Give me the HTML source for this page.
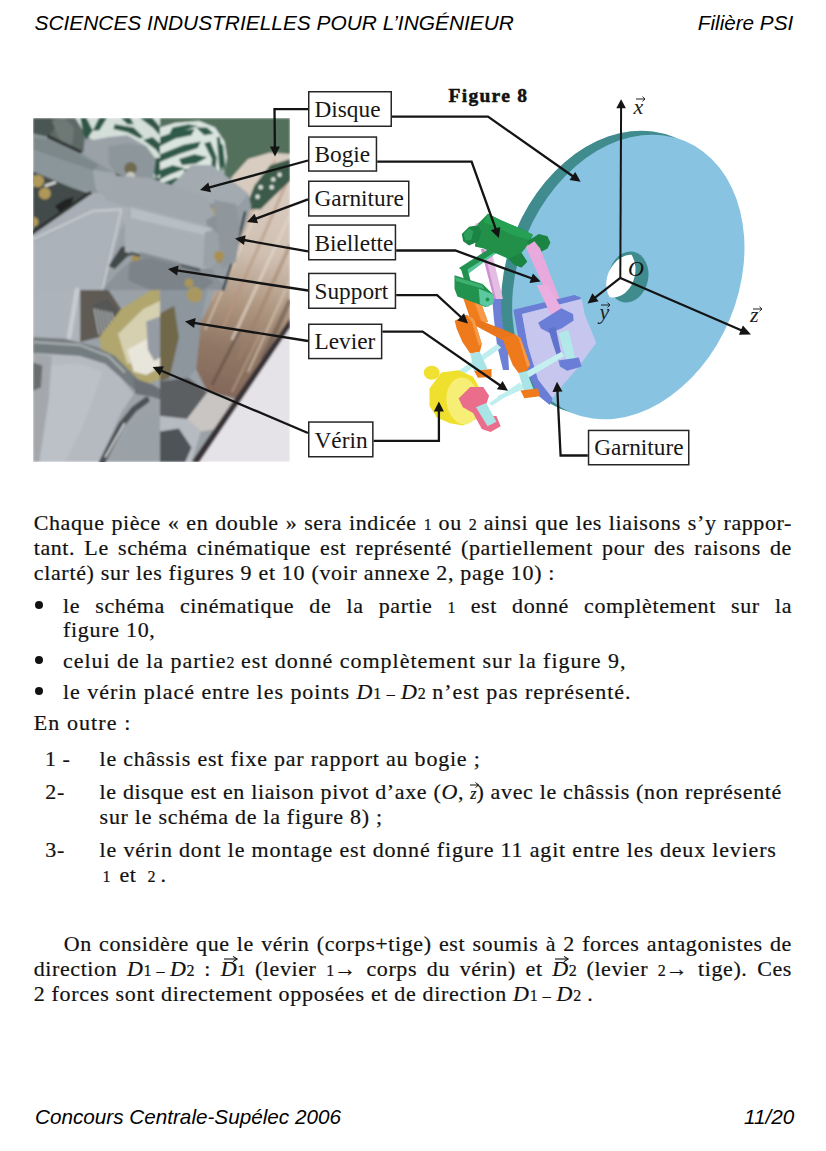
<!DOCTYPE html>
<html><head><meta charset="utf-8"><style>
html,body{margin:0;padding:0;background:#fff;}
body{width:826px;height:1151px;position:relative;overflow:hidden;}
.hd{position:absolute;font-family:"Liberation Sans",sans-serif;font-style:italic;font-size:20.7px;line-height:1;white-space:nowrap;color:#000;}
.ln{position:absolute;font-family:"Liberation Serif",serif;font-size:22.0px;line-height:1;white-space:nowrap;color:#111;-webkit-text-stroke:0.2px #111;}
.ln.j{white-space:normal;text-align:justify;text-align-last:justify;}
.sm{font-size:16px;letter-spacing:0;}
.mi{font-size:16px;}
.bul{position:absolute;left:35px;width:8px;height:8px;border-radius:50%;background:#111;}
.vz,.vd{position:relative;display:inline-block;line-height:1;}
.vz{font-size:16px;letter-spacing:0;}
.va{position:absolute;overflow:visible;}
.vd .va{left:3px;top:-2px;}
.vz .va{left:0px;top:-4.5px;}
svg{position:absolute;left:0;top:0;}
</style></head><body>
<div class="hd" style="left:34.5px;top:12.6px;font-size:20.9px">SCIENCES INDUSTRIELLES POUR L’INGÉNIEUR</div>
<div class="hd" style="left:697.8px;top:12.8px">Filière PSI</div>
<div class="hd" style="left:35px;top:1107.3px">Concours Centrale-Supélec 2006</div>
<div class="hd" style="left:744px;top:1107.3px">11/20</div>
<svg width="826" height="1151" viewBox="0 0 826 1151">
<defs>
<clipPath id="pc"><rect x="33" y="118" width="257" height="344"/></clipPath>
<filter id="bl" x="0" y="0" width="1" height="1"><feGaussianBlur stdDeviation="0.9"/></filter>
<filter id="bl2" x="-5%" y="-5%" width="110%" height="110%"><feGaussianBlur stdDeviation="0.45"/></filter>
</defs>
<g clip-path="url(#pc)"><g filter="url(#bl)"><rect x="33" y="118" width="257" height="344" fill="#9aa2a8"/>
<polygon points="33.0,118.0 80.2,118.0 84.9,136.9 83.4,152.6 80.2,151.8 48.7,136.9 33.0,133.7" fill="#5d6966"/>
<polygon points="33.0,118.0 51.9,118.0 55.0,127.4 48.7,136.9 33.0,133.7" fill="#4a5653"/>
<polygon points="51.9,121.1 64.5,118.0 73.9,127.4 72.3,144.8 64.5,147.9 58.2,136.9" fill="#6e7976"/>
<polygon points="75.5,118.0 163.0,118.0 163.0,187.2 154.2,185.7 146.3,146.3 127.4,135.3 108.5,136.9 92.8,140.0 84.9,133.7" fill="#d4dfda"/>
<polygon points="80.2,118.0 86.5,118.0 92.8,130.6 86.5,140.0 83.4,133.7" fill="#2e5646"/>
<polygon points="99.1,118.0 107.0,118.0 99.1,130.6 92.8,130.6" fill="#2e5646"/>
<polygon points="114.8,124.3 133.7,127.4 143.2,136.9 140.0,138.5 127.4,132.2 113.3,129.0" fill="#2e5646"/>
<polygon points="121.1,118.0 130.6,118.0 133.7,124.3 127.4,124.3" fill="#2e5646"/>
<polygon points="140.0,118.0 152.6,118.0 163.0,130.6 163.0,138.5 152.6,127.4" fill="#2e5646"/>
<polygon points="143.2,140.0 152.6,136.9 163.0,146.3 163.0,158.9 155.8,149.5" fill="#2e5646"/>
<polygon points="149.5,158.9 163.0,157.3 163.0,171.5 155.8,177.8" fill="#2e5646"/>
<polygon points="152.6,177.8 163.0,177.8 163.0,187.2" fill="#2e5646"/>
<polygon points="33.0,133.7 48.7,136.9 80.2,151.8 111.7,171.5 163.0,196.7 163.0,212.4 127.4,206.1 92.8,192.0 70.8,187.2 33.0,171.5" fill="#8b969a"/>
<polygon points="33.0,136.9 48.7,140.0 80.2,155.0 99.1,165.2 92.8,169.9 64.5,160.5 33.0,149.5" fill="#7d888b"/>
<polygon points="92.8,169.9 114.8,173.1 163.0,196.7 163.0,209.3 127.4,203.0 96.0,190.4" fill="#a0a9ae"/>
<polygon points="108.5,146.3 127.4,143.2 146.3,146.3 155.8,158.9 152.6,184.1 143.2,184.1 114.8,173.1 108.5,162.1" fill="#8d979b"/>
<polygon points="114.8,173.1 143.2,184.1 152.6,187.2 143.2,190.4 118.0,177.8" fill="#3c4444"/>
<circle cx="130.6" cy="168.4" r="6.3" fill="#6f6a50"/>
<circle cx="130.6" cy="176.2" r="4.4" fill="#c8c8c0"/>
<polyline points="48.7,136.9 80.2,151.8" fill="none" stroke="#2e3433" stroke-width="3.46" stroke-linejoin="round" stroke-linecap="round"/>
<polygon points="33.0,171.5 70.8,187.2 89.7,193.5 80.2,206.1 51.9,221.9 33.0,231.3" fill="#424b49"/>
<circle cx="37.7" cy="181.0" r="6.3" fill="#b09858"/>
<circle cx="44.8" cy="193.5" r="6.0" fill="#b09858"/>
<circle cx="33.8" cy="221.9" r="4.7" fill="#b09858"/>
<polyline points="45.6,185.7 55.0,182.5" fill="none" stroke="#d8dcd8" stroke-width="2.52" stroke-linejoin="round" stroke-linecap="round"/>
<polygon points="55.0,206.1 64.5,199.8 73.9,196.7 70.8,206.1 59.8,212.4" fill="#202424"/>
<polyline points="33.0,232.9 89.7,193.5" fill="none" stroke="#2a302f" stroke-width="4.09" stroke-linejoin="round" stroke-linecap="round"/>
<polygon points="33.0,234.5 89.7,195.1 99.1,192.0 127.4,206.1 130.6,212.4 121.1,228.2 111.7,259.6 100.7,290.0 33.0,290.0" fill="#a7aeb5"/>
<polygon points="33.0,243.9 92.8,212.4 121.1,209.3 114.8,228.2 99.1,290.0 33.0,290.0" fill="#abb2b9"/>
<polyline points="33.0,239.2 92.8,210.9 121.1,209.3" fill="none" stroke="#c4cacf" stroke-width="2.20" stroke-linejoin="round" stroke-linecap="round"/>
<polyline points="121.1,210.9 114.8,237.6 102.2,290.0" fill="none" stroke="#c4cacf" stroke-width="2.20" stroke-linejoin="round" stroke-linecap="round"/>
<polygon points="124.3,206.1 163.0,199.8 163.0,243.9 143.2,243.9 130.6,231.3 124.3,220.3" fill="#abb2b8"/>
<polygon points="108.5,265.9 121.1,247.1 146.3,242.3 143.2,251.8 127.4,256.5 114.8,269.1" fill="#424848"/>
<polygon points="121.1,269.1 143.2,251.8 163.0,247.1 163.0,290.0 102.2,290.0" fill="#8b9399"/>
<circle cx="136.9" cy="259.6" r="5.5" fill="#a89050"/>
<polygon points="160.0,118.0 290.0,118.0 290.0,157.3 270.2,154.2 254.4,158.9 232.4,177.8 223.0,181.0 160.0,192.0" fill="#52705b"/>
<polygon points="160.0,127.4 175.7,122.7 199.3,121.1 215.1,127.4 224.5,141.6 226.9,157.3 223.7,177.8 207.2,184.1 160.0,192.0" fill="#dbe5e0"/>
<polygon points="160.0,136.9 178.9,130.6 194.6,129.0 191.5,135.3 175.7,138.5 160.0,146.3" fill="#2f5a48"/>
<polygon points="160.0,154.2 183.6,144.8 200.9,141.6 197.8,147.9 178.9,154.2 160.0,162.1" fill="#2f5a48"/>
<polygon points="204.1,143.2 210.4,141.6 216.7,157.3 215.1,177.8 210.4,177.8 211.9,158.9" fill="#2f5a48"/>
<polygon points="196.2,127.4 207.2,127.4 213.5,133.7 204.1,135.3" fill="#2f5a48"/>
<polygon points="160.0,169.9 172.6,165.2 185.2,168.4 169.4,174.7 160.0,179.4" fill="#2f5a48"/>
<polygon points="216.7,136.9 219.8,136.9 223.0,158.9 221.4,174.7 219.0,165.2" fill="#2f5a48"/>
<polygon points="160.0,184.1 175.7,177.8 191.5,179.4 178.9,187.2 160.0,192.0" fill="#2f5a48"/>
<polygon points="172.6,127.4 188.3,124.3 197.8,125.9 183.6,130.6 169.4,133.7" fill="#2f5a48"/>
<polygon points="178.9,158.9 194.6,154.2 207.2,157.3 196.2,163.6 182.0,165.2" fill="#2f5a48"/>
<polygon points="183.6,169.9 199.3,165.2 207.2,169.9 200.9,177.8 186.8,177.8" fill="#2f5a48"/>
<polygon points="219.8,143.2 223.0,144.8 225.3,165.2 223.7,174.7 222.2,165.2" fill="#2f5a48"/>
<linearGradient id="tg" gradientUnits="userSpaceOnUse" x1="265" y1="175" x2="215" y2="390"><stop offset="0" stop-color="#d9cdc1"/><stop offset="0.35" stop-color="#d0c0b2"/><stop offset="0.6" stop-color="#ad957f"/><stop offset="0.8" stop-color="#917866"/><stop offset="1" stop-color="#84695a"/></linearGradient>
<polygon points="231,178 248,159 270,152.6 290,154 290,330 240,400 207,391 196,369 201,321.5 212,300 219.8,290 229,248.6 238.7,226.6 245,206" fill="url(#tg)"/>
<line x1="290" y1="175" x2="222" y2="330" stroke="#b89480" stroke-width="3" opacity="0.6"/>
<line x1="290" y1="215" x2="232" y2="340" stroke="#e2d6c8" stroke-width="3" opacity="0.7"/>
<line x1="290" y1="245" x2="238" y2="360" stroke="#a08068" stroke-width="4" opacity="0.5"/>
<line x1="275" y1="160" x2="212" y2="300" stroke="#c8a48e" stroke-width="2.5" opacity="0.6"/>
<line x1="290" y1="280" x2="248" y2="372" stroke="#d8c8b6" stroke-width="2.5" opacity="0.6"/>
<line x1="262" y1="200" x2="205" y2="330" stroke="#e8dccc" stroke-width="2" opacity="0.5"/>
<line x1="240" y1="330" x2="212" y2="385" stroke="#5e4a40" stroke-width="3" opacity="0.6"/>
<line x1="262" y1="330" x2="232" y2="392" stroke="#c0a890" stroke-width="2" opacity="0.6"/>
<line x1="290" y1="300" x2="262" y2="360" stroke="#6a5850" stroke-width="5" opacity="0.6"/>
<polygon points="245.0,209.3 254.4,185.7 270.2,165.2 290.0,158.9 290.0,181.0 273.3,196.7 260.7,209.3" fill="#3b5a4a"/>
<circle cx="273.3" cy="179.4" r="2.2" fill="#dde4de"/>
<circle cx="260.7" cy="187.2" r="2.2" fill="#dde4de"/>
<circle cx="271.7" cy="187.2" r="2.2" fill="#dde4de"/>
<circle cx="257.6" cy="196.7" r="2.2" fill="#dde4de"/>
<circle cx="279.6" cy="174.7" r="2.2" fill="#dde4de"/>
<polygon points="160.0,192.0 169.4,187.2 191.5,165.2 211.9,165.2 248.1,193.5 251.3,206.1 245.0,228.2 234.0,251.8 226.1,290.0 160.0,290.0" fill="#959ea4"/>
<polygon points="169.4,187.2 191.5,165.2 211.9,165.2 248.1,193.5 238.7,206.1 216.7,206.1 188.3,199.8" fill="#a3abb1"/>
<polygon points="160.0,199.8 188.3,199.8 213.5,206.1 216.7,237.6 210.4,267.5 160.0,269.1" fill="#a0a8ae"/>
<polygon points="204.1,203.0 235.5,206.1 238.7,237.6 229.2,256.5 216.7,247.1 207.2,228.2" fill="#8a9298"/>
<circle cx="218.2" cy="210.9" r="6.3" fill="#a89870"/>
<circle cx="220.6" cy="255.7" r="7.6" fill="#a08850"/>
<circle cx="188.3" cy="280.1" r="8.7" fill="#a08850"/>
<polygon points="160.0,269.1 210.4,267.5 226.1,290.0 160.0,290.0" fill="#8a9298"/>
<polyline points="245.0,212.4 235.5,251.8 223.0,290.0" fill="none" stroke="#2c3030" stroke-width="2.20" stroke-linejoin="round" stroke-linecap="round"/>
<polygon points="105.0,175.0 150.0,178.0 205.0,196.0 215.0,215.0 200.0,224.0 130.0,208.0 105.0,200.0" fill="#a0a8ae"/>
<polygon points="125.0,212.0 131.0,206.0 211.0,227.0 219.0,236.0 220.0,256.0 211.0,268.0 199.0,269.0 125.0,252.0" fill="#a8b0b6"/>
<polygon points="131.0,208.0 211.0,229.0 214.0,237.0 131.0,218.0" fill="#b7bfc5"/>
<polygon points="205.0,232.0 214.0,230.0 220.0,240.0 220.0,258.0 211.0,268.0 203.0,266.0" fill="#9aa2a8"/>
<polyline points="130,253 200,270" stroke="#50575b" stroke-width="3" fill="none"/>
<polygon points="140.0,252.0 178.0,262.0 184.0,270.0 180.0,276.0 140.0,264.0" fill="#858d93"/>
<polygon points="130.0,262.0 150.0,258.0 200.0,272.0 214.0,282.0 200.0,292.0 150.0,290.0 128.0,280.0" fill="#7c848a"/>
<polygon points="214.0,200.0 236.0,204.0 240.0,230.0 236.0,262.0 222.0,268.0 218.0,236.0" fill="#8f979d"/>
<circle cx="219" cy="256" r="5" fill="#a89050"/>
<circle cx="189" cy="283" r="4.5" fill="#a89458"/>
<circle cx="194" cy="294" r="5.5" fill="#b8a468"/>
<polygon points="33.0,290.0 80.2,290.0 80.2,341.9 33.0,341.9" fill="#adb3ba"/>
<polyline points="77.1,290.0 69.2,337.2" fill="none" stroke="#c6ccd1" stroke-width="4.72" stroke-linejoin="round" stroke-linecap="round"/>
<polygon points="80.2,290.0 108.5,290.0 121.1,308.9 99.1,337.2 80.2,341.9" fill="#5e5a52"/>
<polygon points="92.8,305.7 107.0,299.4 121.1,315.2 114.8,334.1 99.1,337.2" fill="#545656"/>
<polyline points="94.4,308.9 99.1,334.1" fill="none" stroke="#b0b4b4" stroke-width="1.57" stroke-linejoin="round" stroke-linecap="round"/>
<polyline points="97.8,309.7 102.6,334.1" fill="none" stroke="#b0b4b4" stroke-width="1.57" stroke-linejoin="round" stroke-linecap="round"/>
<polyline points="101.3,310.5 106.0,334.1" fill="none" stroke="#b0b4b4" stroke-width="1.57" stroke-linejoin="round" stroke-linecap="round"/>
<polyline points="104.8,311.2 109.5,334.1" fill="none" stroke="#b0b4b4" stroke-width="1.57" stroke-linejoin="round" stroke-linecap="round"/>
<polyline points="108.2,312.0 112.9,334.1" fill="none" stroke="#b0b4b4" stroke-width="1.57" stroke-linejoin="round" stroke-linecap="round"/>
<polyline points="111.7,312.8 116.4,334.1" fill="none" stroke="#b0b4b4" stroke-width="1.57" stroke-linejoin="round" stroke-linecap="round"/>
<polygon points="99.1,337.2 121.1,308.9 151.0,290.0 163.0,290.0 163.0,378.1 146.3,384.4 133.7,384.4 121.1,378.1 103.8,360.8" fill="#b0a66e"/>
<polygon points="118.0,334.1 143.2,308.9 163.0,299.4 163.0,346.7 143.2,359.2 127.4,364.0" fill="#d6d0b0"/>
<polygon points="127.4,349.8 149.5,337.2 163.0,334.1 163.0,365.5 146.3,375.0 133.7,371.8" fill="#e8e5da"/>
<polygon points="33.0,337.2 64.5,338.8 96.0,346.7 114.8,356.1 130.6,371.8 143.2,384.4 136.9,392.3 121.1,378.1 105.4,364.0 80.2,356.1 33.0,353.0" fill="#737b7e"/>
<polyline points="33.0,341.9 80.2,345.1 108.5,356.1 124.3,371.8" fill="none" stroke="#a4abae" stroke-width="2.52" stroke-linejoin="round" stroke-linecap="round"/>
<polygon points="146.3,321.5 163.0,315.2 163.0,356.1 154.2,360.8 147.9,349.8" fill="#959ca3"/>
<polygon points="33.0,353.0 80.2,356.1 105.4,364.0 121.1,378.1 133.7,393.9 121.1,412.8 99.1,462.0 33.0,462.0" fill="#b5bac1"/>
<polygon points="39.3,365.5 80.2,364.0 102.2,371.8 92.8,400.2 80.2,431.6 64.5,462.0 39.3,462.0" fill="#bcc1c7"/>
<polygon points="99.1,462.0 121.1,415.9 136.9,393.9 152.6,390.7 163.0,400.2 163.0,412.8 143.2,409.6 127.4,428.5 111.7,462.0" fill="#9ca2a8"/>
<polyline points="102.2,462.0 121.1,425.3 133.7,409.6 146.3,400.2" fill="none" stroke="#4c5154" stroke-width="6.30" stroke-linejoin="round" stroke-linecap="round"/>
<polyline points="105.4,456.8 124.3,423.8" fill="none" stroke="#dfe2e4" stroke-width="1.57" stroke-linejoin="round" stroke-linecap="round"/>
<polygon points="133.7,378.1 152.6,384.4 163.0,390.7 163.0,400.2 152.6,397.0 135.3,393.9" fill="#6a7076"/>
<polygon points="33.0,353.0 51.9,356.1 48.7,400.2 39.3,462.0 33.0,462.0" fill="#a4a8ad"/>
<polygon points="33.0,362.4 42.4,365.5 40.9,387.6 33.0,390.7" fill="#6b6e70"/>
<polygon points="160.0,290.0 207.2,290.0 200.9,321.5 196.2,368.7 188.3,378.1 160.0,384.4" fill="#8d959d"/>
<circle cx="194.6" cy="294.7" r="7.9" fill="#a89860"/>
<polygon points="160.0,313.6 174.2,305.7 178.9,337.2 169.4,378.1 160.0,381.3" fill="#70684a"/>
<polygon points="186.8,419.1 207.2,392.3 235.5,400.2 219.8,428.5 200.9,431.6" fill="#c9c5c2"/>
<polygon points="160.0,381.3 188.3,378.1 207.2,392.3 186.8,419.1 160.0,415.9" fill="#5b5f62"/>
<polygon points="160.0,415.9 186.8,419.1 200.9,431.6 191.5,462.0 160.0,462.0" fill="#b6bbc1"/>
<polygon points="160.0,431.6 178.9,428.5 191.5,447.4 185.2,462.0 160.0,462.0" fill="#4e5256"/>
<polygon points="290.0,318.3 290.0,337.2 207.2,462.0 191.5,462.0" fill="#383336"/>
<polygon points="290.0,327.8 290.0,462.0 199.3,462.0" fill="#e5e3e8"/></g></g>
<g filter="url(#bl2)"><polygon points="492,297 505,295 507,335 509,370 503,370 497,345 494,320" fill="#6c80d6"/>
<ellipse cx="617.3" cy="273.0" rx="109.9" ry="147.2" transform="rotate(22.6 617.3 273.0)" fill="#3f8b8d"/>
<ellipse cx="628.3" cy="277.0" rx="109.9" ry="147.2" transform="rotate(22.6 628.3 277.0)" fill="#88c3e2"/>
<clipPath id="hc"><ellipse cx="628.4" cy="277" rx="19.8" ry="25.7" transform="rotate(12 628.4 277)"/></clipPath>
<ellipse cx="628.4" cy="277" rx="19.8" ry="25.7" transform="rotate(12 628.4 277)" fill="#3f8b8d"/>
<ellipse clip-path="url(#hc)" cx="615.4" cy="272" rx="19.8" ry="25.7" transform="rotate(12 615.4 272)" fill="#ffffff"/>
<polygon points="481.0,249.0 491.0,249.0 503.0,299.0 494.0,299.0" fill="#e4bce4"/>
<polygon points="481.0,249.0 484.0,249.0 496.0,299.0 494.0,299.0" fill="#cf8fd0"/>
<polygon points="474.9,223.9 483.6,221.0 487.9,225.3 480.7,231.2" fill="#e7b2e0"/>
<polygon points="459.0,268.0 492.0,247.0 499.0,251.0 466.0,274.0" fill="#229250"/>
<polygon points="465.0,271.0 495.0,252.0 499.0,251.0 468.0,274.0" fill="#58c49a"/>
<polygon points="461.0,269.0 467.0,268.0 471.0,282.0 465.0,283.0" fill="#229250"/>
<polygon points="477.8,223.9 487.9,213.7 501.0,220.3 519.9,228.2 533.0,234.8 527.2,245.7 521.4,252.9 527.2,261.7 521.4,267.5 514.1,264.6 508.3,258.8 495.2,252.9 483.6,248.6 474.9,246.4" fill="#20904a"/>
<polygon points="487.9,213.7 501.0,220.3 519.9,228.2 533.0,234.8 528.6,239.9 509.7,234.1 495.2,226.8 483.6,222.4" fill="#25a052"/>
<polygon points="461.8,234.1 469.1,226.8 477.8,225.3 481.4,231.2 478.5,241.3 469.1,245.4 463.2,241.3" fill="#1a8443"/>
<polygon points="463.2,234.1 469.1,228.2 473.4,231.2 471.2,239.9 465.4,240.6" fill="#2aa05c"/>
<polygon points="527.2,241.3 538.8,234.1 547.5,236.2 550.4,242.8 547.5,248.6 538.8,252.9 530.1,250.0" fill="#1a8443"/>
<polygon points="508.3,258.8 521.4,252.9 527.2,261.7 521.4,267.5 514.1,264.6" fill="#1a8443"/>
<polygon points="525.7,247.1 534.4,241.3 540.2,248.6 560.0,299.4 560.0,305.0 551.9,305.0" fill="#e8a9dc"/>
<polygon points="513.4,309.7 574.4,294.9 580.2,297.3 581.7,299.5 522.1,314.1 527.9,346.0 538.1,379.4 552.6,398.3 549.7,405.0 538.1,395.4 527.9,372.2 519.2,343.1" fill="#6a7ed6"/>
<polygon points="522.1,314.1 581.7,298.8 584.6,314.1 596.2,343.1 578.8,366.4 561.4,386.7 552.6,398.3 538.1,379.4 527.9,346.0" fill="#c6c6ee"/>
<polygon points="536.7,285.0 548.3,285.0 567.2,318.4 559.9,328.6 555.5,324.2" fill="#eaaee0"/>
<polygon points="552.6,318.4 565.7,314.1 567.9,319.9 559.9,328.6" fill="#f08dbd"/>
<polygon points="538.1,322.8 561.4,308.2 573.0,314.1 573.7,320.6 561.4,328.6 549.7,332.9 541.0,328.6" fill="#6a7ed8"/>
<polygon points="548.3,328.6 555.5,327.1 561.4,354.7 558.5,360.5 552.6,343.1" fill="#5f72cc"/>
<polygon points="558.5,332.9 568.6,330.0 575.9,360.5 567.2,363.5" fill="#b2e8ea"/>
<polygon points="558.5,360.5 578.8,357.6 581.7,366.4 567.2,370.7 559.9,366.4" fill="#6a7ed8"/>
<polygon points="525.0,372.2 561.4,351.8 564.3,356.2 527.9,378.0" fill="#c4f0f0"/>
<polygon points="459.4,287.0 476.8,291.6 488.0,322.0 472.0,324.0" fill="#ef7d1e"/>
<polygon points="470.0,290.0 476.8,291.6 488.0,322.0 482.0,323.0" fill="#f59a48"/>
<polygon points="458.6,316.8 466.3,314.9 514.7,334.2 511.8,340.0 503.1,340.4" fill="#e9741a"/>
<polygon points="454.7,320.7 466.3,314.9 474.1,318.7 481.8,343.9 479.9,351.7 470.2,353.6 462.4,342.0 456.6,328.4" fill="#ee7a1c"/>
<polygon points="466.3,314.9 474.1,318.7 481.8,343.9 478.9,345.9 472.1,322.6" fill="#f59a48"/>
<polygon points="503.1,338.1 514.7,334.2 520.5,338.1 530.2,365.2 526.4,371.0 518.6,373.0 512.8,365.2 505.0,345.9" fill="#ee7a1c"/>
<polygon points="514.7,334.2 520.5,338.1 530.2,365.2 527.3,367.2 518.6,338.1" fill="#f59a48"/>
<polygon points="458.6,371.0 497.3,343.9 501.2,347.8 462.4,374.9" fill="#bfeeee"/>
<polygon points="497.3,396.2 522.5,384.6 524.4,388.5 499.2,400.1" fill="#bfeeee"/>
<polygon points="470.2,353.6 479.9,351.7 487.6,369.1 479.9,373.0 474.1,371.0" fill="#a9e4e6"/>
<polygon points="518.6,373.0 526.4,371.0 534.1,390.4 524.4,392.3" fill="#a9e4e6"/>
<polygon points="474.1,371.0 491.5,369.1 491.5,376.9 477.9,377.8" fill="#ee7a1c"/>
<polygon points="520.5,390.4 538.0,388.5 539.9,396.2 524.4,398.2" fill="#ee7a1c"/>
<polygon points="454.5,275.2 482.6,284.0 493.3,294.5 492.3,304.2 485.5,307.1 478.7,304.2 457.4,296.5 454.5,288.7" fill="#229250"/>
<polygon points="455.0,277.0 482.0,285.0 484.0,289.0 456.0,281.0" fill="#3fb070"/>
<polygon points="478.7,288.7 493.3,294.5 494.0,302.0 488.0,307.1 480.0,304.2" fill="#5cc8a0"/>
<circle cx="487.5" cy="299.5" r="2" fill="#229250"/>
<polygon points="458.6,371.0 470.2,363.7 472.4,366.6 461.5,373.2" fill="#bfeeee"/>
<polygon points="489.1,402.9 519.6,382.6 522.5,385.5 492.0,405.8" fill="#bfeeee"/>
<ellipse cx="431.7" cy="372.8" rx="8" ry="7" fill="#f0e030"/>
<polygon points="429.5,388.4 441.2,372.4 458.6,370.3 473.1,376.8 478.9,387.0 480.4,402.9 476.0,418.9 462.9,425.5 449.9,423.3 436.8,417.5 429.5,405.8" fill="#efe02e"/>
<ellipse cx="463" cy="401" rx="16.5" ry="23.5" transform="rotate(-8 463 401)" fill="#f6ee74"/>
<polygon points="458.6,398.6 470.2,387.0 483.3,387.0 489.1,395.7 486.2,404.4 478.9,407.3 483.3,416.0 496.4,416.0 500.7,426.2 490.5,432.0 481.8,429.1 473.1,413.1 462.9,407.3" fill="#ea6e8c"/>
<polygon points="476.0,407.3 486.2,402.9 496.4,421.8 487.6,426.2" fill="#a9e4e6"/></g>
<rect x="308.75" y="91.75" width="82.5" height="34.5" fill="#fff" stroke="#262626" stroke-width="1.5"/>
<text x="314.5" y="117" font-family="Liberation Serif" font-size="23.3" fill="#161616">Disque</text>
<rect x="308.75" y="137.05" width="67.69999999999999" height="34.0" fill="#fff" stroke="#262626" stroke-width="1.5"/>
<text x="314.5" y="161.5" font-family="Liberation Serif" font-size="23.3" fill="#161616">Bogie</text>
<rect x="308.75" y="181.25" width="100.0" height="34.69999999999999" fill="#fff" stroke="#262626" stroke-width="1.5"/>
<text x="314.5" y="206" font-family="Liberation Serif" font-size="23.3" fill="#161616">Garniture</text>
<rect x="308.75" y="225.05" width="86.69999999999999" height="34.69999999999999" fill="#fff" stroke="#262626" stroke-width="1.5"/>
<text x="314.5" y="250.8" font-family="Liberation Serif" font-size="23.3" fill="#161616">Biellette</text>
<rect x="308.75" y="273.45" width="86.69999999999999" height="34.80000000000001" fill="#fff" stroke="#262626" stroke-width="1.5"/>
<text x="314.5" y="298.7" font-family="Liberation Serif" font-size="23.3" fill="#161616">Support</text>
<rect x="308.75" y="324.25" width="72.89999999999998" height="34.30000000000001" fill="#fff" stroke="#262626" stroke-width="1.5"/>
<text x="314.5" y="348.7" font-family="Liberation Serif" font-size="23.3" fill="#161616">Levier</text>
<rect x="308.75" y="422.05" width="64.10000000000002" height="34.69999999999999" fill="#fff" stroke="#262626" stroke-width="1.5"/>
<text x="314.5" y="447.5" font-family="Liberation Serif" font-size="23.3" fill="#161616">Vérin</text>
<rect x="588.55" y="430.45" width="100.20000000000005" height="34.30000000000001" fill="#fff" stroke="#262626" stroke-width="1.5"/>
<text x="594.3" y="455.2" font-family="Liberation Serif" font-size="23.3" fill="#161616">Garniture</text>
<text x="448.5" y="101.8" font-family="Liberation Serif" font-weight="bold" font-size="19.5" letter-spacing="1.3" fill="#111" stroke="#111" stroke-width="0.5">Figure 8</text>
<polyline points="308.0,109.2 274.5,109.2 274.9,147.5" fill="none" stroke="#141414" stroke-width="2.3" stroke-linejoin="miter"/><polygon points="275.0,156.5 269.9,146.6 279.9,146.4" fill="#141414"/>
<polyline points="308.0,160.5 208.7,187.6" fill="none" stroke="#141414" stroke-width="2.3" stroke-linejoin="miter"/><polygon points="200.0,190.0 208.3,182.5 211.0,192.2" fill="#141414"/>
<polyline points="308.0,199.3 255.4,218.9" fill="none" stroke="#141414" stroke-width="2.3" stroke-linejoin="miter"/><polygon points="247.0,222.0 254.6,213.8 258.1,223.2" fill="#141414"/>
<polyline points="308.0,251.4 243.9,240.0" fill="none" stroke="#141414" stroke-width="2.3" stroke-linejoin="miter"/><polygon points="235.0,238.4 245.7,235.2 244.0,245.1" fill="#141414"/>
<polyline points="308.0,290.5 176.9,270.4" fill="none" stroke="#141414" stroke-width="2.3" stroke-linejoin="miter"/><polygon points="168.0,269.0 178.6,265.6 177.1,275.5" fill="#141414"/>
<polyline points="308.0,341.0 193.9,322.9" fill="none" stroke="#141414" stroke-width="2.3" stroke-linejoin="miter"/><polygon points="185.0,321.5 195.7,318.1 194.1,328.0" fill="#141414"/>
<polyline points="308.0,433.0 160.9,370.5" fill="none" stroke="#141414" stroke-width="2.3" stroke-linejoin="miter"/><polygon points="152.6,367.0 163.8,366.3 159.8,375.5" fill="#141414"/>
<polyline points="392.0,116.6 488.0,116.6 573.2,176.5" fill="none" stroke="#141414" stroke-width="2.3" stroke-linejoin="miter"/><polygon points="580.6,181.7 569.5,180.0 575.3,171.9" fill="#141414"/>
<polyline points="377.2,161.7 471.6,161.7 495.9,229.5" fill="none" stroke="#141414" stroke-width="2.3" stroke-linejoin="miter"/><polygon points="498.9,238.0 490.8,230.3 500.2,226.9" fill="#141414"/>
<polyline points="396.2,250.5 455.3,250.5 532.1,278.5" fill="none" stroke="#141414" stroke-width="2.3" stroke-linejoin="miter"/><polygon points="540.6,281.6 529.5,282.9 532.9,273.5" fill="#141414"/>
<polyline points="396.2,295.2 437.1,295.2 461.4,317.5" fill="none" stroke="#141414" stroke-width="2.3" stroke-linejoin="miter"/><polygon points="468.0,323.6 457.3,320.5 464.0,313.2" fill="#141414"/>
<polyline points="382.4,331.6 422.6,331.6 500.6,385.7" fill="none" stroke="#141414" stroke-width="2.3" stroke-linejoin="miter"/><polygon points="508.0,390.8 496.9,389.2 502.6,381.0" fill="#141414"/>
<polyline points="373.6,440.8 438.9,440.8 438.9,410.5" fill="none" stroke="#141414" stroke-width="2.3" stroke-linejoin="miter"/><polygon points="438.9,401.5 443.9,411.5 433.9,411.5" fill="#141414"/>
<polyline points="587.8,455.5 560.6,455.5 557.4,390.7" fill="none" stroke="#141414" stroke-width="2.3" stroke-linejoin="miter"/><polygon points="557.0,381.7 562.5,391.4 552.5,391.9" fill="#141414"/>
<polyline points="620.3,277.9 621.1,107.2" fill="none" stroke="#141414" stroke-width="2.0" stroke-linejoin="miter"/><polygon points="621.1,99.2 625.9,108.2 616.3,108.2" fill="#141414"/>
<polyline points="620.3,277.9 594.7,297.9" fill="none" stroke="#141414" stroke-width="2.2" stroke-linejoin="miter"/><polygon points="587.6,303.4 592.4,293.3 598.6,301.2" fill="#141414"/>
<polyline points="620.3,277.9 741.8,330.5" fill="none" stroke="#141414" stroke-width="2.2" stroke-linejoin="miter"/><polygon points="751.0,334.5 738.9,334.7 742.9,325.5" fill="#141414"/>
<text x="628" y="275.5" font-family="Liberation Serif" font-style="italic" font-size="22" fill="#111">O</text>
<text x="633.5" y="114" font-family="Liberation Serif" font-style="italic" font-size="22" fill="#222">x</text>
<text x="599.5" y="319" font-family="Liberation Serif" font-style="italic" font-size="22" fill="#222">y</text>
<text x="750" y="322" font-family="Liberation Serif" font-style="italic" font-size="22" fill="#222">z</text>
<path d="M636 99h8.5" stroke="#222" stroke-width="1"/><path d="M642.5 96.7l2.5 2.3l-2.5 2.3" fill="none" stroke="#222" stroke-width="1"/>
<path d="M601 305h8.5" stroke="#222" stroke-width="1"/><path d="M607.5 302.7l2.5 2.3l-2.5 2.3" fill="none" stroke="#222" stroke-width="1"/>
<path d="M753 309h8.5" stroke="#222" stroke-width="1"/><path d="M759.5 306.7l2.5 2.3l-2.5 2.3" fill="none" stroke="#222" stroke-width="1"/>
</svg>
<div class="ln j" style="top:512.3px;left:33.7px;letter-spacing:0.6px;width:758.3px;">Chaque pièce « en double » sera indicée <span class="sm">1</span> ou <span class="sm">2</span> ainsi que les liaisons s’y rappor-</div>
<div class="ln j" style="top:537.4px;left:33.7px;letter-spacing:0.6px;width:758.3px;">tant. Le schéma cinématique est représenté (partiellement pour des raisons de</div>
<div class="ln" style="top:562.4px;left:33.7px;letter-spacing:0.68px;">clarté) sur les figures 9 et 10 (voir annexe 2, page 10) :</div>
<div class="ln j" style="top:594.7px;left:63.0px;letter-spacing:0.6px;width:729.0px;">le schéma cinématique de la partie <span class="sm">1</span> est donné complètement sur la</div>
<div class="ln" style="top:619.4px;left:63.0px;letter-spacing:0.7px;">figure 10,</div>
<div class="ln" style="top:649.6px;left:63.0px;letter-spacing:0.97px;">celui de la partie<span class="sm">2</span> est donné complètement sur la figure 9,</div>
<div class="ln" style="top:680.8px;left:63.0px;letter-spacing:0.96px;">le vérin placé entre les points <i>D</i><span class="sm">1</span>&thinsp;<span class="mi">–</span>&thinsp;<i>D</i><span class="sm">2</span> n’est pas représenté.</div>
<div class="ln" style="top:712.1px;left:33.7px;letter-spacing:1.09px;">En outre :</div>
<div class="bul" style="top:600.5px"></div>
<div class="bul" style="top:655.5px"></div>
<div class="bul" style="top:686.5px"></div>
<div class="ln" style="top:748.4px;left:44.9px;letter-spacing:0.6px;">1 -</div>
<div class="ln" style="top:748.4px;left:99.6px;letter-spacing:0.78px;">le châssis est fixe par rapport au bogie ;</div>
<div class="ln" style="top:781.3px;left:45.3px;letter-spacing:0.6px;">2-</div>
<div class="ln" style="top:781.3px;left:99.6px;letter-spacing:0.65px;">le disque est en liaison pivot d’axe (<i>O</i>, <span class="vz"><i>z</i><svg class="va" width="9" height="6" viewBox="0 0 9 6"><path d="M0 3H8.5" stroke="#111" stroke-width="1"/><path d="M5.5 0.5L8.7 3L5.5 5.5" fill="none" stroke="#111" stroke-width="1"/></svg></span>) avec le châssis (non représenté</div>
<div class="ln" style="top:806.3px;left:99.6px;letter-spacing:0.72px;">sur le schéma de la figure 8) ;</div>
<div class="ln" style="top:838.8px;left:45.3px;letter-spacing:0.6px;">3-</div>
<div class="ln" style="top:838.8px;left:99.6px;letter-spacing:0.82px;">le vérin dont le montage est donné figure 11 agit entre les deux leviers</div>
<div class="ln" style="top:864.0px;left:102.5px;letter-spacing:0.6px;"><span class="sm">1</span></div>
<div class="ln" style="top:864.0px;left:119.5px;letter-spacing:0.6px;">et</div>
<div class="ln" style="top:864.0px;left:147.5px;letter-spacing:0.6px;"><span class="sm">2</span></div>
<div class="ln" style="top:864.0px;left:160.5px;letter-spacing:0.6px;">.</div>
<div class="ln j" style="top:933.4px;left:63.7px;letter-spacing:0.6px;width:728.3px;">On considère que le vérin (corps+tige) est soumis à 2 forces antagonistes de</div>
<div class="ln j" style="top:958.4px;left:33.7px;letter-spacing:0.6px;width:758.3px;">direction <i>D</i><span class="sm">1</span>&thinsp;<span class="mi">–</span>&thinsp;<i>D</i><span class="sm">2</span> : <span class="vd"><i>D</i><svg class="va" width="14" height="6" viewBox="0 0 14 6"><path d="M0 3H13" stroke="#111" stroke-width="1.1"/><path d="M9 0.4L13.2 3L9 5.6" fill="none" stroke="#111" stroke-width="1.1"/></svg></span><span class="sm">1</span> (levier <span class="sm">1</span>→ corps du vérin) et <span class="vd"><i>D</i><svg class="va" width="14" height="6" viewBox="0 0 14 6"><path d="M0 3H13" stroke="#111" stroke-width="1.1"/><path d="M9 0.4L13.2 3L9 5.6" fill="none" stroke="#111" stroke-width="1.1"/></svg></span><span class="sm">2</span> (levier <span class="sm">2</span>→ tige). Ces</div>
<div class="ln" style="top:982.8px;left:33.7px;letter-spacing:0.68px;">2 forces sont directement opposées et de direction <i>D</i><span class="sm">1</span>&thinsp;<span class="mi">–</span>&thinsp;<i>D</i><span class="sm">2</span> .</div>

</body></html>
